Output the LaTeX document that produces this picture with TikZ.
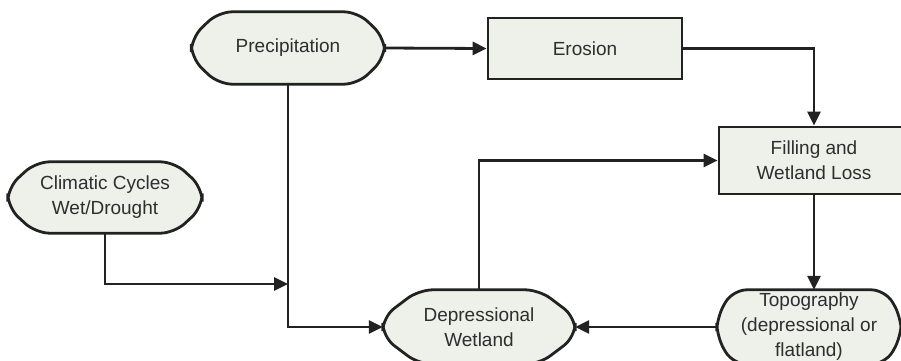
\documentclass[tikz,border=0pt]{standalone}
\usepackage{fontspec}
\setmainfont{Liberation Sans}
\usetikzlibrary{arrows.meta,calc,backgrounds}
\definecolor{boxfill}{HTML}{EEF0EA}
\definecolor{edge}{HTML}{222222}
\definecolor{ink}{HTML}{2E2E2E}

\tikzset{
  txt/.style={text=ink, font=\fontsize{19}{25}\selectfont, align=center, inner sep=0pt},
  rectbox/.style={txt, draw=edge, fill=boxfill, line width=2.8pt},
  term/.style={txt},
  termline/.style={draw=edge, fill=boxfill, line width=2.8pt, rounded corners=14pt},
  flow/.style={draw=edge, line width=2.8pt, -{Triangle[length=14pt,width=13pt]}},
}

\begin{document}
\begin{tikzpicture}[x=1pt, y=-1pt]
  \clip (0,0) rectangle (901,360);
  \useasboundingbox (0,0) rectangle (901,360);

  % Rounded blocks
  \node[term, minimum width=193pt, minimum height=72pt] (prec) at (288,48) {Precipitation};
  \node[term, minimum width=194pt, minimum height=71pt] (clim) at (105,197.5) {Climatic Cycles\\Wet/Drought};
  \node[term, minimum width=192pt, minimum height=74pt] (depr) at (479,327) {Depressional\\Wetland};
  \node[term, minimum width=184pt, minimum height=74pt] (topo) at (809,327) {Topography\\(depressional or\\flatland)};

  % Square blocks
  \node[rectbox, minimum width=194pt, minimum height=61pt] (eros) at (585,48.5) {Erosion};
  \node[rectbox, minimum width=190pt, minimum height=67pt] (fill) at (814,160.5) {Filling and\\Wetland Loss};

  % Outlines of the rounded blocks
  \begin{scope}[on background layer]
    \foreach \n/\c in {prec/27,clim/28,depr/36,topo/16}
      \path[termline] ($(\n.north west)+(\c,0)$) -- ($(\n.north east)+(-\c,0)$)
        -- ($(\n.east)+(0,-10)$) -- ($(\n.east)+(0,10)$)
        -- ($(\n.south east)+(-\c,0)$) -- ($(\n.south west)+(\c,0)$)
        -- ($(\n.west)+(0,10)$) -- ($(\n.west)+(0,-10)$) -- cycle;
  \end{scope}

  % Connectors
  \coordinate (merge) at (prec.south |- 0,284);
  \draw[flow] (prec.east) -- (eros.west);
  \draw[flow] (eros.east) -| (fill.north);
  \draw[flow] (fill.south) -- (fill.south |- topo.north);
  \draw[flow] (topo.west) -- (depr.east);
  \draw[flow] (depr.north) |- (fill.west);
  \draw[flow] (prec.south) |- (depr.west);
  \draw[flow] (clim.south) |- (merge);
\end{tikzpicture}
\end{document}
